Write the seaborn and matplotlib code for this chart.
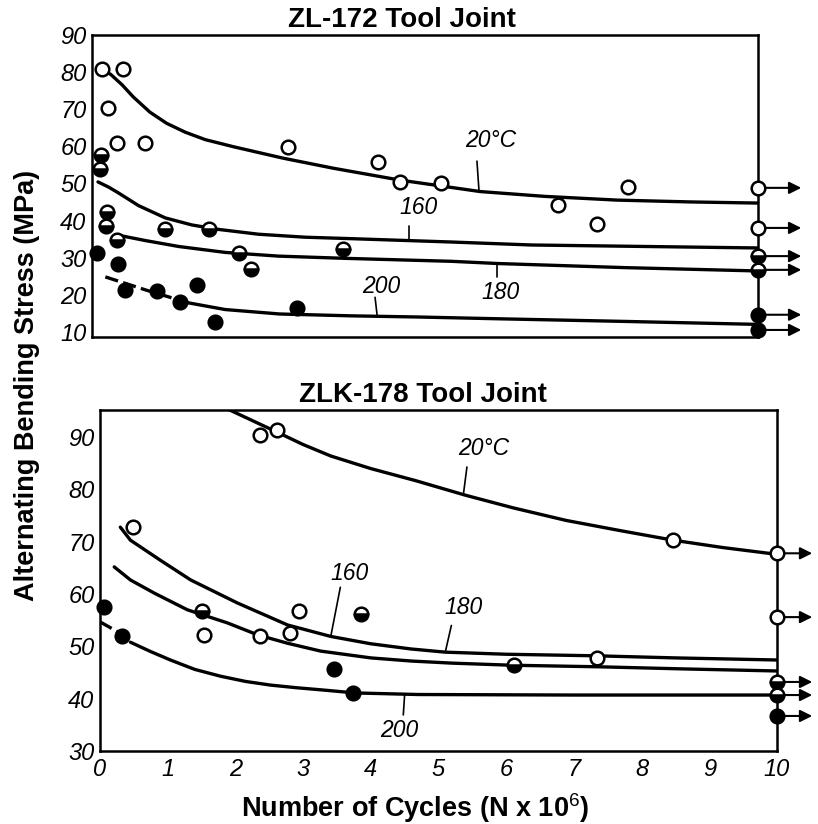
import matplotlib
matplotlib.use("Agg")
import matplotlib.pyplot as plt
import seaborn as sns

sns.set_style("white")
plt.rcParams["font.family"] = ["Liberation Sans", "DejaVu Sans"]
plt.rcParams["mathtext.fontset"] = "custom"
plt.rcParams["mathtext.rm"] = "Liberation Sans"
plt.rcParams["mathtext.it"] = "Liberation Sans:italic"
plt.rcParams["mathtext.bf"] = "Liberation Sans:bold"
plt.rcParams["text.color"] = "black"
plt.rcParams["axes.labelcolor"] = "black"
plt.rcParams["xtick.color"] = "black"
plt.rcParams["ytick.color"] = "black"

# ---------------- data: ZL-172 (top panel) ----------------
top_title = "ZL-172 Tool Joint"
top_yticks = [10, 20, 30, 40, 50, 60, 70, 80, 90]
top_xticks = [1, 2, 3, 4, 5, 6, 7, 8, 9]

top_open_x = [0.15, 0.46, 0.24, 0.38, 0.80, 2.95, 4.29, 4.62, 5.24, 7.00, 7.58, 8.05, 10, 10]
top_open_y = [80.8, 80.8, 70.3, 60.9, 60.9, 59.8, 55.8, 50.4, 50.1, 44.2, 39.1, 49.0, 48.8, 38.0]
top_half_x = [0.14, 0.12, 0.23, 0.21, 0.38, 1.10, 1.76, 2.20, 2.38, 3.77, 10, 10]
top_half_y = [57.7, 53.9, 42.3, 38.5, 34.8, 37.7, 37.7, 31.2, 26.9, 32.3, 30.4, 26.7]
top_fill_x = [0.07, 0.39, 0.50, 0.98, 1.32, 1.57, 1.85, 3.08, 10, 10]
top_fill_y = [31.2, 28.4, 21.2, 20.9, 18.0, 22.6, 12.7, 16.5, 14.6, 10.5]

top_c20_x = [0.15, 0.28, 0.45, 0.62, 0.87, 1.12, 1.40, 1.70, 2.12, 2.87, 3.62, 4.62, 5.83, 6.80, 7.88, 9.00, 10.0]
top_c20_y = [80.6, 79.4, 76.6, 73.3, 69.2, 66.2, 63.8, 61.8, 59.9, 56.8, 54.1, 50.9, 47.8, 46.5, 45.5, 45.0, 44.7]
top_c160_x = [0.09, 0.25, 0.40, 0.70, 1.10, 1.50, 1.90, 2.50, 3.20, 3.90, 5.40, 6.60, 8.30, 10.0]
top_c160_y = [50.4, 49.0, 47.4, 44.0, 40.7, 38.8, 37.6, 36.3, 35.5, 35.1, 34.2, 33.4, 33.0, 32.6]
top_c180_x = [0.35, 0.80, 1.30, 2.00, 2.80, 3.80, 5.40, 6.10, 8.00, 10.0]
top_c180_y = [36.2, 34.6, 33.0, 31.4, 30.4, 29.8, 29.0, 28.4, 27.3, 26.4]
top_c200_dash_x = [0.20, 0.82, 1.45]
top_c200_dash_y = [24.8, 21.2, 17.8]
top_c200_x = [1.45, 2.00, 2.82, 3.90, 4.87, 6.13, 8.00, 10.0]
top_c200_y = [17.8, 16.0, 14.8, 14.3, 14.0, 13.5, 12.8, 12.0]

top_labels = ["20°C", "160", "180", "200"]
top_label_xy = [(5.98, 61.5), (4.90, 43.5), (6.13, 20.6), (4.35, 22.3)]
top_leaders = [((5.78, 56.0), (5.81, 48.2)), ((4.76, 38.6), (4.76, 35.0)),
               ((6.08, 24.8), (6.08, 28.4)), ((4.25, 19.3), (4.28, 14.6))]

# ---------------- data: ZLK-178 (bottom panel) ----------------
bot_title = "ZLK-178 Tool Joint"
bot_yticks = [30, 40, 50, 60, 70, 80, 90]
bot_xticks = [0, 1, 2, 3, 4, 5, 6, 7, 8, 9, 10]
bot_xticklabels = ["0", "1", "2", "3", "4", "5", "6", "7", "8", "9", "10"]

bot_open_x = [2.36, 2.61, 0.49, 1.54, 2.36, 2.80, 2.94, 7.34, 8.47, 10, 10]
bot_open_y = [90.4, 91.3, 72.8, 52.2, 52.0, 52.5, 56.8, 47.8, 70.3, 67.8, 55.6]
bot_half_x = [1.51, 3.86, 6.11, 10, 10]
bot_half_y = [56.8, 56.2, 46.4, 43.2, 40.7]
bot_fill_x = [0.06, 0.32, 3.46, 3.74, 10]
bot_fill_y = [57.5, 52.0, 45.7, 41.1, 36.7]

bot_c20_x = [1.85, 2.61, 3.00, 3.41, 4.00, 4.66, 5.40, 6.10, 6.88, 7.70, 8.47, 9.20, 10.0]
bot_c20_y = [95.6, 91.0, 88.6, 86.4, 84.0, 81.7, 78.9, 76.5, 74.1, 72.1, 70.3, 68.9, 67.6]
bot_c160_x = [0.30, 0.45, 0.90, 1.34, 2.03, 2.77, 3.41, 4.00, 4.60, 5.10, 6.00, 7.33, 8.50, 10.0]
bot_c160_y = [72.8, 70.3, 66.4, 62.7, 58.3, 54.1, 51.9, 50.5, 49.5, 48.9, 48.5, 48.2, 47.8, 47.4]
bot_c180_x = [0.21, 0.45, 0.80, 1.29, 1.88, 2.33, 2.77, 3.26, 4.00, 4.60, 5.20, 6.08, 7.37, 8.60, 10.0]
bot_c180_y = [65.2, 62.7, 60.2, 57.0, 54.5, 52.2, 50.6, 49.1, 47.8, 47.2, 46.8, 46.4, 46.1, 45.7, 45.3]
bot_c200_dash_x = [0.00, 0.30]
bot_c200_dash_y = [54.7, 52.5]
bot_c200_x = [0.45, 0.75, 1.04, 1.40, 1.78, 2.15, 2.52, 2.90, 3.26, 3.77, 4.70, 7.00, 10.0]
bot_c200_y = [50.8, 49.0, 47.4, 45.6, 44.3, 43.3, 42.6, 42.1, 41.7, 41.1, 40.8, 40.7, 40.7]

bot_labels = ["20°C", "160", "180", "200"]
bot_label_xy = [(5.67, 87.9), (3.69, 64.0), (5.37, 57.5), (4.42, 34.0)]
bot_leaders = [((5.42, 84.3), (5.37, 79.3)), ((3.55, 61.3), (3.41, 52.0)),
               ((5.19, 54.0), (5.10, 48.9)), ((4.48, 36.9), (4.50, 40.8))]

# ---------------- figure ----------------
W, H = 818, 824
fig = plt.figure(figsize=(W / 100, H / 100), dpi=100)
ax1 = fig.add_axes([92 / W, 1 - 337 / H, (758 - 92) / W, (337 - 35) / H])
ax2 = fig.add_axes([100 / W, 1 - 751 / H, (777 - 100) / W, (751 - 410) / H])

LW = 2.4
MS = 9.8
TICKFS = 17
LABFS = 16.5
TITLEFS = 20
AXLABFS = 19.5


def curve(ax, x, y, dashed=False):
    sns.lineplot(x=x, y=y, ax=ax, color="black", lw=LW, estimator=None,
                 sort=False, zorder=2,
                 linestyle=(0, (4, 1.6)) if dashed else "-")


def points(ax, x, y, kind):
    if kind == "open":
        fc, alt, fs = "white", "white", "full"
    elif kind == "half":
        fc, alt, fs = "black", "white", "bottom"
    else:
        fc, alt, fs = "black", "black", "full"
    sns.lineplot(x=x, y=y, ax=ax, color="black", estimator=None, sort=False,
                 linestyle="none", marker="o", markersize=MS,
                 markerfacecolor=fc, markerfacecoloralt=alt, fillstyle=fs,
                 markeredgecolor="black", markeredgewidth=1.8,
                 zorder=5, clip_on=False)


def arrows(ax, xs, ys, tip):
    for x, y in zip(xs, ys):
        if x >= 10:
            ax.annotate("", xy=(tip, y), xytext=(10, y),
                        arrowprops=dict(arrowstyle="-|>", color="black", lw=1.5,
                                        mutation_scale=18, shrinkA=0, shrinkB=0),
                        annotation_clip=False, zorder=3)


def style_axes(ax, ylim, yticks, xticks, ylen, xlen, xlabels):
    ax.set_xlim(0, 10)
    ax.set_ylim(*ylim)
    ax.set_yticks(yticks)
    ax.set_yticklabels([str(v) for v in yticks], style="italic", fontsize=TICKFS, color="black")
    ax.set_xticks(xticks)
    if xlabels is None:
        ax.tick_params(axis="x", labelbottom=False)
    else:
        ax.set_xticklabels(xlabels, style="italic", fontsize=TICKFS, color="black")
    ax.tick_params(axis="y", direction="in", length=ylen, width=1.4, pad=4, colors="black")
    ax.tick_params(axis="x", direction="in", length=xlen, width=1.4, pad=5, colors="black")
    ax.set_xlabel("")
    ax.set_ylabel("")
    for s in ax.spines.values():
        s.set_visible(True)
        s.set_color("black")
        s.set_linewidth(1.8)
    ax.set_facecolor("white")


# top panel
curve(ax1, top_c20_x, top_c20_y)
curve(ax1, top_c160_x, top_c160_y)
curve(ax1, top_c180_x, top_c180_y)
curve(ax1, top_c200_dash_x, top_c200_dash_y, dashed=True)
curve(ax1, top_c200_x, top_c200_y)
for xs, ys in [(top_open_x, top_open_y), (top_half_x, top_half_y), (top_fill_x, top_fill_y)]:
    arrows(ax1, xs, ys, 10.65)
points(ax1, top_open_x, top_open_y, "open")
points(ax1, top_half_x, top_half_y, "half")
points(ax1, top_fill_x, top_fill_y, "fill")
for lab, (tx, ty), ((x0, y0), (x1, y1)) in zip(top_labels, top_label_xy, top_leaders):
    ax1.text(tx, ty, lab, style="italic", fontsize=LABFS, ha="center", va="center", color="black")
    ax1.plot([x0, x1], [y0, y1], color="black", lw=1.2)
style_axes(ax1, (8.6, 90), top_yticks, top_xticks, 6, 14, None)

# bottom panel
curve(ax2, bot_c20_x, bot_c20_y)
curve(ax2, bot_c160_x, bot_c160_y)
curve(ax2, bot_c180_x, bot_c180_y)
curve(ax2, bot_c200_dash_x, bot_c200_dash_y, dashed=True)
curve(ax2, bot_c200_x, bot_c200_y)
for xs, ys in [(bot_open_x, bot_open_y), (bot_half_x, bot_half_y), (bot_fill_x, bot_fill_y)]:
    arrows(ax2, xs, ys, 10.52)
points(ax2, bot_open_x, bot_open_y, "open")
points(ax2, bot_half_x, bot_half_y, "half")
points(ax2, bot_fill_x, bot_fill_y, "fill")
for lab, (tx, ty), ((x0, y0), (x1, y1)) in zip(bot_labels, bot_label_xy, bot_leaders):
    ax2.text(tx, ty, lab, style="italic", fontsize=LABFS, ha="center", va="center", color="black")
    ax2.plot([x0, x1], [y0, y1], color="black", lw=1.2)
style_axes(ax2, (30, 95.2), bot_yticks, bot_xticks, 13, 13, bot_xticklabels)

# titles and axis labels
fig.text(402 / W, 1 - 20 / H, top_title, ha="center", va="center", fontsize=TITLEFS,
         fontweight="bold", color="black")
fig.text(423 / W, 1 - 395 / H, bot_title, ha="center", va="center", fontsize=TITLEFS,
         fontweight="bold", color="black")
fig.text(27 / W, 1 - 385 / H, "Alternating Bending Stress (MPa)", rotation=90,
         ha="center", va="center", fontsize=AXLABFS, fontweight="bold", color="black")
fig.text(415 / W, 1 - 808 / H, r"Number of Cycles (N x 10$^{6}$)",
         ha="center", va="center", fontsize=AXLABFS, fontweight="bold", color="black")

fig.savefig("out.png", dpi=100, facecolor="white")
